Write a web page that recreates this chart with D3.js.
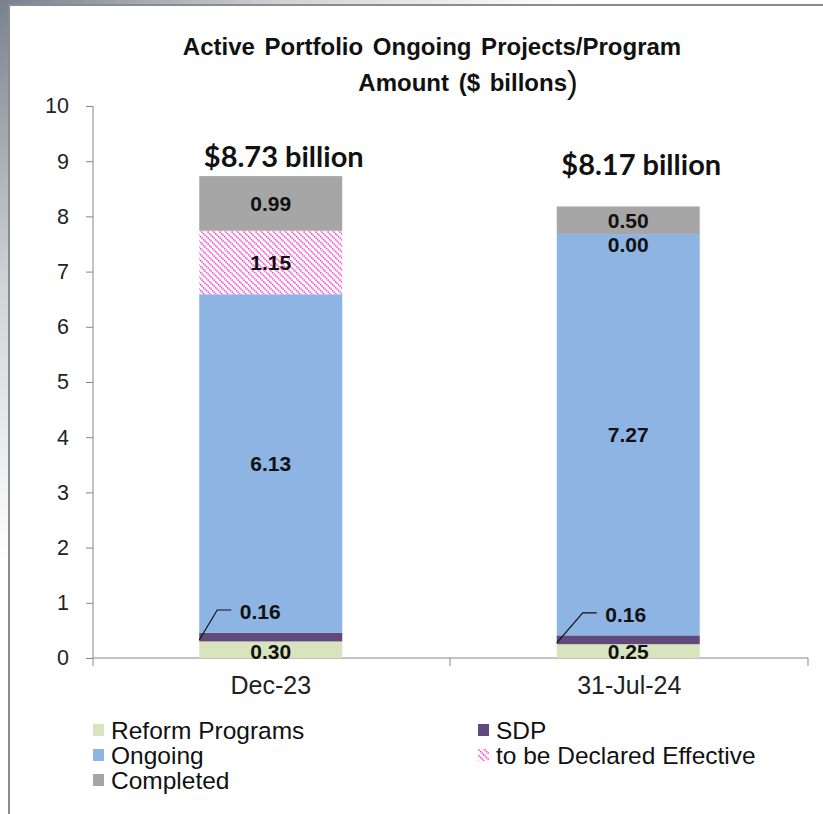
<!DOCTYPE html>
<html>
<head>
<meta charset="utf-8">
<script src="https://cdn.jsdelivr.net/npm/d3@7"></script>
<style>
  body { margin: 0; background: #fff; }
  svg { display: block; font-family: "Liberation Sans", Arial, sans-serif; }
</style>
</head>
<body>
<svg width="823" height="814"></svg>
<script>
// chart data
const categories = ["Dec-23", "31-Jul-24"]
const seriesNames = ["Reform Programs", "SDP", "Ongoing", "to be Declared Effective", "Completed"]
const reform = [0.30, 0.25]
const sdp = [0.16, 0.16]
const ongoing = [6.13, 7.27]
const toBeDeclared = [1.15, 0.00]
const completed = [0.99, 0.50]
const totals = ["$8.73 billion", "$8.17 billion"]
const yTicks = [0, 1, 2, 3, 4, 5, 6, 7, 8, 9, 10]

const colors = ["#d7e4bd", "#604a7b", "#8eb4e3", "url(#hatch)", "#a6a6a6"]
const FONT = "Liberation Sans, Arial, sans-serif"

var svg = d3.select("svg")

// slide background + frame
let defs = svg.append("defs")
let bgGrad = defs.append("linearGradient").attr("id", "bg")
  .attr("x1", 0).attr("y1", 0).attr("x2", 0.35).attr("y2", 0.35)
bgGrad.append("stop").attr("offset", 0).attr("stop-color", "#77818d")
bgGrad.append("stop").attr("offset", 0.5).attr("stop-color", "#d0d3d6")
bgGrad.append("stop").attr("offset", 1).attr("stop-color", "#ffffff")
svg.append("rect").attr("width", 823).attr("height", 814).attr("fill", "url(#bg)")
svg.append("rect").attr("x", 9).attr("y", 5).attr("width", 830).attr("height", 830)
  .attr("fill", "#fff").attr("stroke", "#8c8c8c").attr("stroke-width", 2)

// hatch pattern for "to be Declared Effective"
let pat = defs.append("pattern").attr("id", "hatch")
  .attr("patternUnits", "userSpaceOnUse").attr("width", 6).attr("height", 6)
pat.append("rect").attr("width", 6).attr("height", 6).attr("fill", "#fff")
pat.append("path").attr("d", "M-1,-1 L7,7 M-4,2 L2,8 M4,-2 L8,2")
  .attr("stroke", "#ff3fcf").attr("stroke-width", 1.6).attr("stroke-dasharray", "1.4,0.8")

const x = d3.scaleBand().domain(categories).range([93, 808]).padding(0)
const y = d3.scaleLinear().domain([0, 10]).range([658, 106])
const barW = x.bandwidth() * 0.4

// stack
let rows = categories.map((c, i) => ({
  cat: c, r: reform[i], s: sdp[i], o: ongoing[i], t: toBeDeclared[i], c2: completed[i]
}))
let keys = ["r", "s", "o", "t", "c2"]
let stacked = d3.stack().keys(keys)(rows)

// axes
let yAxis = svg.append("g").attr("transform", "translate(93,0)")
  .call(d3.axisLeft(y).tickValues(yTicks).tickSize(7).tickPadding(17))
yAxis.selectAll("text").attr("font-size", 21.5).attr("fill", "#222").attr("font-family", FONT)
yAxis.selectAll("line, path").attr("stroke", "#868686")
yAxis.select(".domain").attr("d", "M0,106V658")

let xAxis = svg.append("g").attr("transform", "translate(0,658)")
  .call(d3.axisBottom(x).tickSize(0).tickPadding(18))
xAxis.select(".domain").attr("stroke", "#868686").attr("d", "M93,0H808")
xAxis.selectAll("text").attr("font-size", 25).attr("fill", "#222").attr("font-family", FONT)
  .attr("dx", (d, i) => i === 0 ? -1 : 0)
// category boundary ticks
svg.append("g").selectAll("line").data([93, 450, 808]).enter().append("line")
  .attr("x1", d => d).attr("x2", d => d).attr("y1", 658).attr("y2", 666)
  .attr("stroke", "#868686")

// bars
let barX = d => x(d.data.cat) + (x.bandwidth() - barW) / 2 - 1
stacked.forEach((layer, k) => {
  svg.append("g").selectAll("rect").data(layer).enter().append("rect")
    .attr("x", d => barX(d))
    .attr("y", d => y(d[1]))
    .attr("width", barW)
    .attr("height", d => y(d[0]) - y(d[1]))
    .attr("fill", colors[k])
})

// segment labels
let lab = svg.append("g").attr("font-weight", "bold").attr("font-size", 21)
  .attr("fill", "#111").attr("text-anchor", "middle").attr("font-family", FONT)
stacked.forEach((layer, k) => {
  if (k === 1) return
  layer.forEach(d => {
    let cx = barX(d) + barW / 2
    let mid = (y(d[0]) + y(d[1])) / 2
    if (d[1] - d[0] === 0) mid = y(d[1]) + 11
    if (k === 0) mid = y(d[0]) - 6
    lab.append("text").attr("x", cx).attr("y", mid).attr("dy", "0.35em")
      .text((d[1] - d[0]).toFixed(2))
  })
})
// SDP labels with leader line
stacked[1].forEach((d, i) => {
  let x0 = barX(d)
  let ym = (y(d[0]) + y(d[1])) / 2 + 3
  let ly = ym - 30
  let run = i === 0 ? 18 : 26
  svg.append("path")
    .attr("d", `M${x0},${ym} L${x0 + run},${ly} L${x0 + run + 14},${ly}`)
    .attr("fill", "none").attr("stroke", "#111").attr("stroke-width", 1.2)
  lab.append("text").attr("x", x0 + run + 43).attr("y", ly + 2).attr("dy", "0.35em")
    .text((d[1] - d[0]).toFixed(2))
})

// totals
svg.append("g").selectAll("text").data(categories).enter().append("text")
  .attr("x", (c, i) => x(c) + x.bandwidth() / 2 + 12)
  .attr("y", (c, i) => i === 0 ? 167 : 175)
  .attr("text-anchor", "middle").attr("font-family", "Lato, 'Open Sans', sans-serif")
  .attr("font-weight", "bold").attr("font-size", 29).attr("fill", "#111")
  .text((c, i) => totals[i])

// title
let title = svg.append("g").attr("font-weight", "bold").attr("font-size", 24)
  .attr("fill", "#111").attr("text-anchor", "middle").attr("word-spacing", 3)
  .attr("font-family", FONT)
title.append("text").attr("x", 432).attr("y", 55).text("Active Portfolio Ongoing Projects/Program")
let t2 = title.append("text").attr("x", 468).attr("y", 91)
t2.append("tspan").text("Amount ($ billons")
t2.append("tspan").attr("font-size", 32).attr("font-weight", "normal").attr("dy", 2).text(")")

// legend
let legPos = [[93, 730], [478, 730], [93, 755], [478, 755], [93, 780]]
let leg = svg.append("g").selectAll("g").data(seriesNames).enter().append("g")
  .attr("transform", (d, i) => `translate(${legPos[i][0]},${legPos[i][1]})`)
leg.append("rect").attr("x", 0).attr("y", -6).attr("width", 11).attr("height", 12)
  .attr("fill", (d, i) => colors[i])
leg.append("text").attr("x", 18).attr("y", 0).attr("dy", "0.36em")
  .attr("font-size", 24.5).attr("fill", "#111").attr("font-family", FONT).text(d => d)
</script>
</body>
</html>
